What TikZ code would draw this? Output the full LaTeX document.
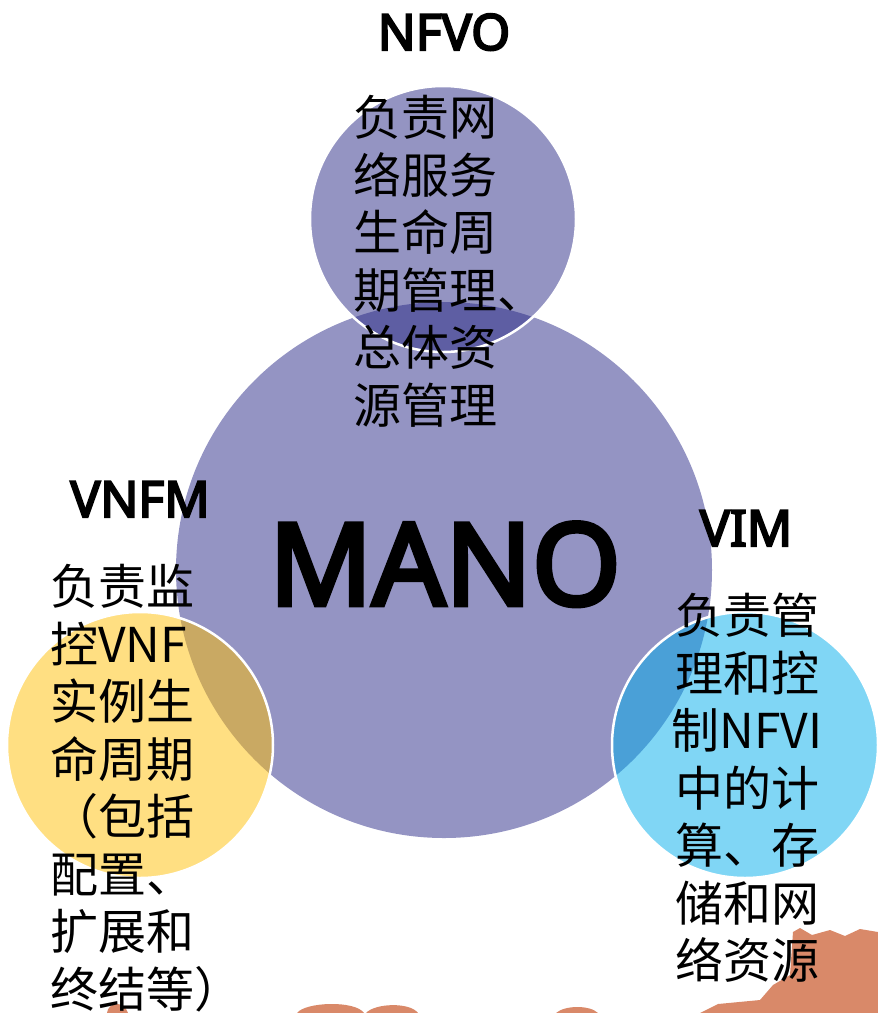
\documentclass[tikz,border=0pt]{standalone}
\usepackage{fontspec}
\setmainfont{Noto Sans CJK SC}
\newfontfamily\latinbold{Noto Sans}[FakeBold=4]
\definecolor{manofill}{RGB}{148,148,195}
\definecolor{nfvofill}{RGB}{41,41,133}
\definecolor{vnfmfill}{RGB}{255,191,5}
\definecolor{vimfill}{RGB}{1,173,235}
\definecolor{blobfill}{RGB}{217,137,105}
\tikzset{
  part/.style={circle,draw=white,line width=2.5pt,fill opacity=0.5,minimum size=266pt,inner sep=0pt},
  title/.style={font=\latinbold\fontsize{50}{50}\selectfont,inner sep=0pt,anchor=base},
  duty/.style={font=\fontsize{48}{57.5}\selectfont,inner sep=0pt},
}
\begin{document}
\begin{tikzpicture}[x=1pt,y=-1pt]
  \useasboundingbox (0,0) rectangle (878,1013);
  \fill[blobfill] (793,932) -- (800,928) -- (812,935) -- (830,930) -- (845,936) -- (860,929) -- (878,932)
    -- (878,1013) -- (700,1013) -- (718,1004) -- (760,1000) -- (773,985) -- (790,975) -- cycle;
  \fill[blobfill] (107,1013) .. controls (108,1002) and (124,1000) .. (128,1013) -- cycle;
  \fill[blobfill] (297,1013) .. controls (305,1002) and (355,1000) .. (364,1013) -- cycle;
  \fill[blobfill] (366,1013) .. controls (375,1003) and (410,1002) .. (418,1013) -- cycle;
  \fill[blobfill] (556,1013) .. controls (565,1005) and (590,1005) .. (598,1013) -- cycle;
  \node[circle,fill=manofill,minimum size=536pt,inner sep=0pt] (mano) at (444,570) {};
  \node[part,fill=nfvofill] (nfvo) at (443,219) {};
  \node[part,fill=vnfmfill] (vnfm) at (140,745) {};
  \node[part,fill=vimfill] (vim) at (745,745) {};
  \node[title,font=\latinbold\fontsize{114}{114}\selectfont] (manotitle) at (445,605) {MANO};
  \node[title] (nfvotitle) at (444,50) {NFVO};
  \node[title] (vnfmtitle) at (140,517) {VNFM};
  \node[title] (vimtitle) at (746,546) {VIM};
  \node[duty,align=left,anchor=north west] (nfvotext) at (353,95)
    {负责网\\络服务\\生命周\\期管理、\\总体资\\源管理};
  \node[duty,align=left,anchor=north west] (vnfmtext) at (50,564)
    {负责监\\控VNF\\实例生\\命周期\\（包括\\配置、\\扩展和\\终结等）};
  \node[duty,align=center,anchor=north] (vimtext) at (747,593)
    {负责管\\理和控\\制NFVI\\中的计\\算、存\\储和网\\络资源};
\end{tikzpicture}
\end{document}
